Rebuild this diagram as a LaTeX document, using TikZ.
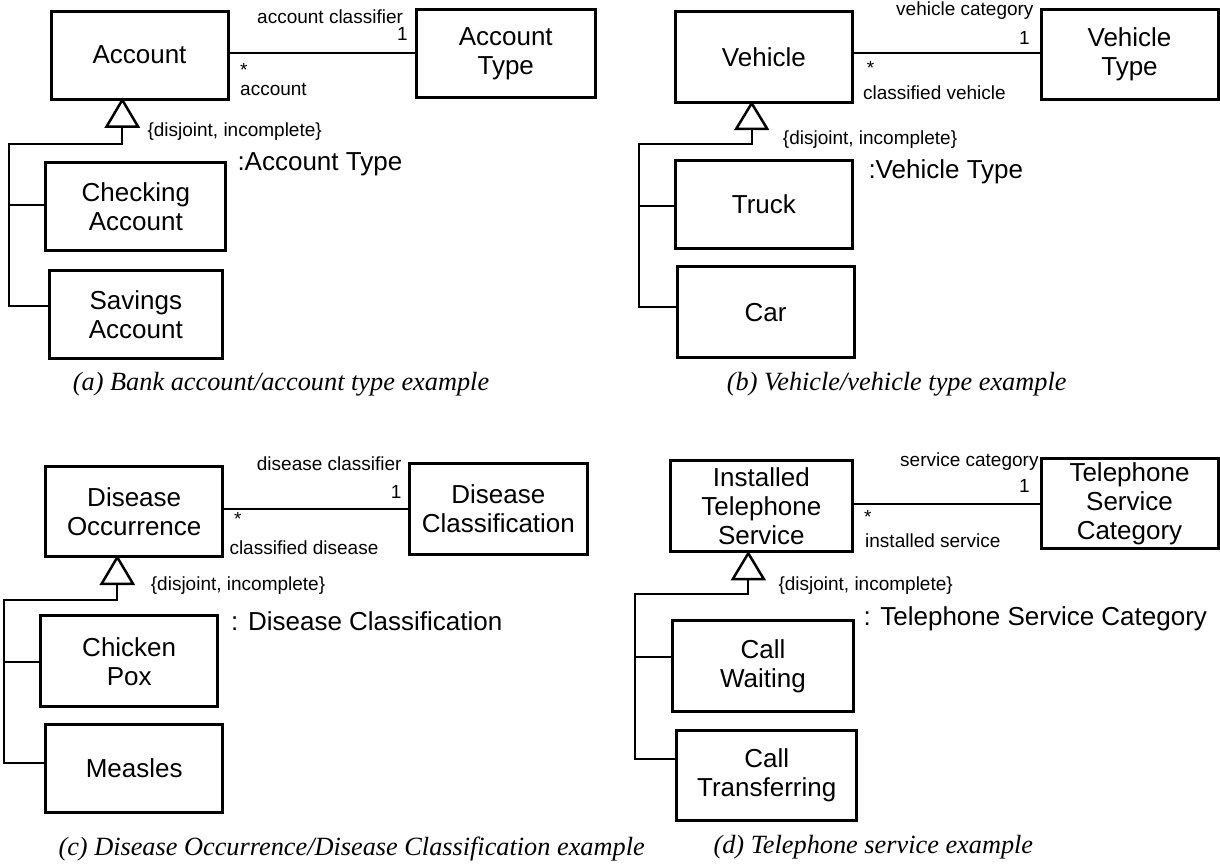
\documentclass[tikz,border=0pt]{standalone}
\usepackage{fontspec}
\setmainfont{Liberation Sans}
\newfontfamily\capfont{Liberation Serif}
\begin{document}
\begin{tikzpicture}[x=1pt,y=-1pt,
  cls/.style={draw, line width=3pt, align=center, inner sep=0pt,
    font=\fontsize{26}{29}\selectfont},
  small/.style={inner sep=0pt, font=\fontsize{19}{22}\selectfont},
  big/.style={inner sep=0pt, font=\fontsize{26}{29}\selectfont},
  capt/.style={inner sep=0pt, anchor=base west, font=\capfont\itshape\fontsize{26.3}{30}\selectfont},
  assoc/.style={line width=2pt},
  gen/.style={line width=2pt},
  gtri/.style={line width=2.5pt, fill=white, line join=miter}
]
\useasboundingbox (0,0) rectangle (1220,863);

% ---------------- (a) ----------------
\node[cls, minimum width=177, minimum height=88] (acc) at (139.5,55) {Account};
\node[cls, minimum width=179.5, minimum height=88] (acctype) at (505.75,53.6) {Account\\Type};
\node[cls, minimum width=180, minimum height=88] (chk) at (135.85,206.5) {Checking\\Account};
\node[cls, minimum width=173.7, minimum height=87.6] (sav) at (135.85,314.5) {Savings\\Account};
\draw[assoc] (acc.east) ++(0,-1.7) coordinate (aL) -- (aL -| acctype.west);
\node[small, anchor=base west] (a-role1) at (257,23) {account classifier};
\node[small, anchor=base east] (a-m1) at (408,40.7) {1};
\node[small, anchor=base west] (a-m2) at (240,76) {*};
\node[small, anchor=base west] (a-role2) at (240,95) {account};
\coordinate (a-apex) at (122.3,100);
\coordinate (a-bus1) at (9,205);
\coordinate (a-bus2) at (9,306);
\draw[gen] (122.3,126) |- (9,144) -- (a-bus2) -- (a-bus2 -| sav.west);
\draw[gen] (a-bus1) -- (a-bus1 -| chk.west);
\draw[gtri] (a-apex) -- ++(-15.7,26.5) -- ++(31.4,0) -- cycle;
\node[small, anchor=base west] (a-dis) at (147.3,136.7) {\{disjoint, incomplete\}};
\node[big, anchor=base west] (a-pt) at (237.3,170) {:Account Type};
\node[capt] (a-cap) at (72.7,390.7) {(a) Bank account/account type example};

% ---------------- (b) ----------------
\node[cls, minimum width=177.7, minimum height=91.7] (veh) at (763.85,56.85) {Vehicle};
\node[cls, minimum width=177, minimum height=90] (vehtype) at (1129.5,54.3) {Vehicle\\Type};
\node[cls, minimum width=177.7, minimum height=87.6] (truck) at (763.85,204.5) {Truck};
\node[cls, minimum width=176.7, minimum height=91] (car) at (765.65,312.2) {Car};
\draw[assoc] (veh.east) ++(0,-3.5) coordinate (bL) -- (bL -| vehtype.west);
\node[small, anchor=base west] (b-role1) at (896,15.7) {vehicle category};
\node[small, anchor=base east] (b-m1) at (1030,44) {1};
\node[small, anchor=base west] (b-m2) at (866.7,74) {*};
\node[small, anchor=base west] (b-role2) at (863,99.3) {classified vehicle};
\coordinate (b-apex) at (751.7,103.3);
\coordinate (b-bus1) at (639,206);
\coordinate (b-bus2) at (639,307.3);
\draw[gen] (751.7,128) |- (639,144) -- (b-bus2) -- (b-bus2 -| car.west);
\draw[gen] (b-bus1) -- (b-bus1 -| truck.west);
\draw[gtri] (b-apex) -- ++(-15.5,25.5) -- ++(31,0) -- cycle;
\node[small, anchor=base west] (b-dis) at (782.7,144) {\{disjoint, incomplete\}};
\node[big, anchor=base west] (b-pt) at (868.3,178.3) {:Vehicle Type};
\node[capt] (b-cap) at (726.7,390.7) {(b) Vehicle/vehicle type example};

% ---------------- (c) ----------------
\node[cls, minimum width=177, minimum height=90] (docc) at (134.2,511.7) {Disease\\Occurrence};
\node[cls, minimum width=178.7, minimum height=91] (dcls) at (498.35,508.8) {Disease\\Classification};
\node[cls, minimum width=177, minimum height=91] (chick) at (129.2,661.2) {Chicken\\Pox};
\node[cls, minimum width=177, minimum height=88.3] (meas) at (134.2,768.15) {Measles};
\draw[assoc] (docc.east) ++(0,-2.7) coordinate (cL) -- (cL -| dcls.west);
\node[small, anchor=base west] (c-role1) at (256.7,470.7) {disease classifier};
\node[small, anchor=base east] (c-m1) at (401.7,498.3) {1};
\node[small, anchor=base west] (c-m2) at (234,525.7) {*};
\node[small, anchor=base west] (c-role2) at (229.3,554) {classified disease};
\coordinate (c-apex) at (117.3,557.3);
\coordinate (c-bus1) at (4,661.7);
\coordinate (c-bus2) at (4,763.3);
\draw[gen] (117.3,583) |- (4,600) -- (c-bus2) -- (c-bus2 -| meas.west);
\draw[gen] (c-bus1) -- (c-bus1 -| chick.west);
\draw[gtri] (c-apex) -- ++(-15.7,26.5) -- ++(31.4,0) -- cycle;
\node[small, anchor=base west] (c-dis) at (150.7,590.7) {\{disjoint, incomplete\}};
\node[big, anchor=base west] (c-pt) at (231,630) {: Disease Classification};
\node[capt] (c-cap) at (58.3,855) {(c) Disease Occurrence/Disease Classification example};

% ---------------- (d) ----------------
\node[cls, minimum width=182.7, minimum height=91] (its) at (761.35,506.2) {Installed\\Telephone\\Service};
\node[cls, minimum width=177, minimum height=90] (tsc) at (1129.5,503.3) {Telephone\\Service\\Category};
\node[cls, minimum width=180.6, minimum height=91] (cw) at (763,666.2) {Call\\Waiting};
\node[cls, minimum width=180, minimum height=90.7] (ct) at (766.7,775.35) {Call\\Transferring};
\draw[assoc] (its.east) ++(0,-2.7) coordinate (dL) -- (dL -| tsc.west);
\node[small, anchor=base west] (d-role1) at (900,466.7) {service category};
\node[small, anchor=base east] (d-m1) at (1030,492.7) {1};
\node[small, anchor=base west] (d-m2) at (864,523.4) {*};
\node[small, anchor=base west] (d-role2) at (865,547.3) {installed service};
\coordinate (d-apex) at (748.3,553.3);
\coordinate (d-bus1) at (635,657.3);
\coordinate (d-bus2) at (635,759);
\draw[gen] (748.3,578) |- (635,594.3) -- (d-bus2) -- (d-bus2 -| ct.west);
\draw[gen] (d-bus1) -- (d-bus1 -| cw.west);
\draw[gtri] (d-apex) -- ++(-15.5,25.7) -- ++(31,0) -- cycle;
\node[small, anchor=base west] (d-dis) at (778.3,590) {\{disjoint, incomplete\}};
\node[big, anchor=base west] (d-pt) at (863.3,625) {: Telephone Service Category};
\node[capt] (d-cap) at (713.3,853.3) {(d) Telephone service example};
\end{tikzpicture}
\end{document}
